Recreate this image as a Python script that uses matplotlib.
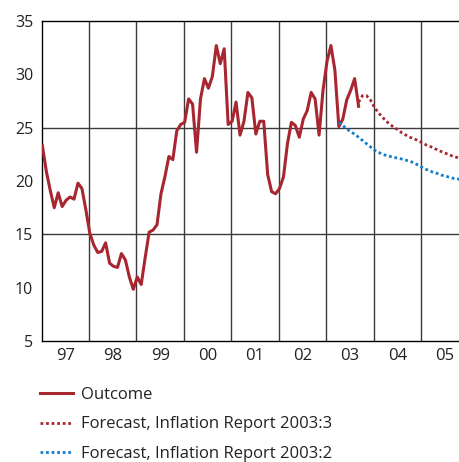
import matplotlib
matplotlib.use("Agg")
import matplotlib.pyplot as plt
import numpy as np

# Monthly outcome, Jan 1997 onwards
outcome = [23.3, 20.9, 19.1, 17.5, 18.9, 17.6, 18.2, 18.5, 18.3, 19.8, 19.3, 17.3,
           15.1, 14.0, 13.3, 13.4, 14.2, 12.3, 12.0, 11.9, 13.2, 12.6, 11.0, 9.85,
           11.0, 10.3, 12.8, 15.2, 15.4, 15.9, 18.8, 20.4, 22.3, 22.0, 24.7, 25.3,
           25.5, 27.7, 27.2, 22.7, 27.7, 29.6, 28.7, 29.8, 32.7, 31.0, 32.4, 25.3,
           25.6, 27.4, 24.3, 25.6, 28.3, 27.8, 24.4, 25.6, 25.6, 20.6, 19.0, 18.8,
           19.3, 20.4, 23.5, 25.5, 25.2, 24.1, 25.8, 26.6, 28.3, 27.7, 24.3, 28.5,
           31.2, 32.7, 30.4, 25.1, 25.8, 27.6, 28.5, 29.6, 27.0]
# Forecast IR 2003:3, starting Sep 2003 (month index 80)
fc3_start = 80
forecast_3 = [27.4, 28.0, 28.0, 27.6, 26.9, 26.4, 26.0, 25.6, 25.3, 25.0, 24.8, 24.5,
              24.3, 24.1, 23.95, 23.8, 23.6, 23.4, 23.25, 23.1, 22.9, 22.75, 22.6,
              22.45, 22.3, 22.2, 22.1, 22.0]
# Forecast IR 2003:2, starting Apr 2003 (month index 75)
fc2_start = 75
forecast_2 = [25.5, 25.2, 24.9, 24.6, 24.4, 24.1, 23.8, 23.5, 23.2, 22.9, 22.7, 22.5,
              22.4, 22.3, 22.2, 22.15, 22.05, 21.95, 21.85, 21.7, 21.5, 21.3, 21.1,
              20.95, 20.8, 20.7, 20.55, 20.45, 20.35, 20.25, 20.2, 20.1, 20.0]
year_labels = ["97", "98", "99", "00", "01", "02", "03", "04", "05"]
legend_labels = ["Outcome", "Forecast, Inflation Report 2003:3",
                 "Forecast, Inflation Report 2003:2"]

red = "#a8262f"
blue = "#0f7fcc"
txt = "#222222"

plt.rcParams['font.family'] = ['Open Sans', 'DejaVu Sans']

def mx(start, n):
    return 1997 + (start + np.arange(n) + 0.2) / 12.0

fig = plt.figure(figsize=(4.59, 4.62), dpi=100)
W, H = 459, 462
left_px, top_px, bot_px = 41.6, 21, 341
year_px = 47.43
ax = fig.add_axes([left_px / W, 1 - bot_px / H, 9 * year_px / W, (bot_px - top_px) / H])

ax.set_xlim(1997, 2006)
ax.set_ylim(5, 35)

# grid
for yr in range(1998, 2006):
    ax.axvline(yr, color="#3a3a3a", lw=1.0, zorder=1)
for yv in (15, 25):
    ax.axhline(yv, color="#3a3a3a", lw=1.0, zorder=1)

l1, = ax.plot(mx(0, len(outcome)), outcome, color=red, lw=2.2, zorder=3,
              solid_joinstyle="round")
l2, = ax.plot(mx(fc3_start, len(forecast_3)), forecast_3, color=red, lw=2.0,
              linestyle=(0, (1, 1)), zorder=3)
l3, = ax.plot(mx(fc2_start, len(forecast_2)), forecast_2, color=blue, lw=2.0,
              linestyle=(0, (1, 1)), zorder=3)

for s in ax.spines.values():
    s.set_color("black")
    s.set_linewidth(1.0)

ax.set_yticks(np.arange(5, 36, 5))
ax.set_yticks([10, 20, 30], minor=True)
ax.tick_params(axis="y", which="major", length=0, pad=6, labelsize=11.5, labelcolor=txt)
ax.tick_params(axis="y", which="minor", direction="in", length=8, width=1.0,
               color="#3a3a3a", left=True, right=True)
ax.set_xticks(np.arange(1997.5, 2006, 1.0))
ax.set_xticklabels(year_labels)
ax.tick_params(axis="x", which="major", length=0, pad=5, labelsize=12, labelcolor=txt)

leg = fig.legend([l1, l2, l3], legend_labels, loc="upper left",
                 bbox_to_anchor=(25 / W, 1 - 372 / H), frameon=False,
                 fontsize=12, handlelength=2.0, handletextpad=0.45,
                 labelspacing=0.8, labelcolor=txt)

fig.savefig("out.png", dpi=100)
